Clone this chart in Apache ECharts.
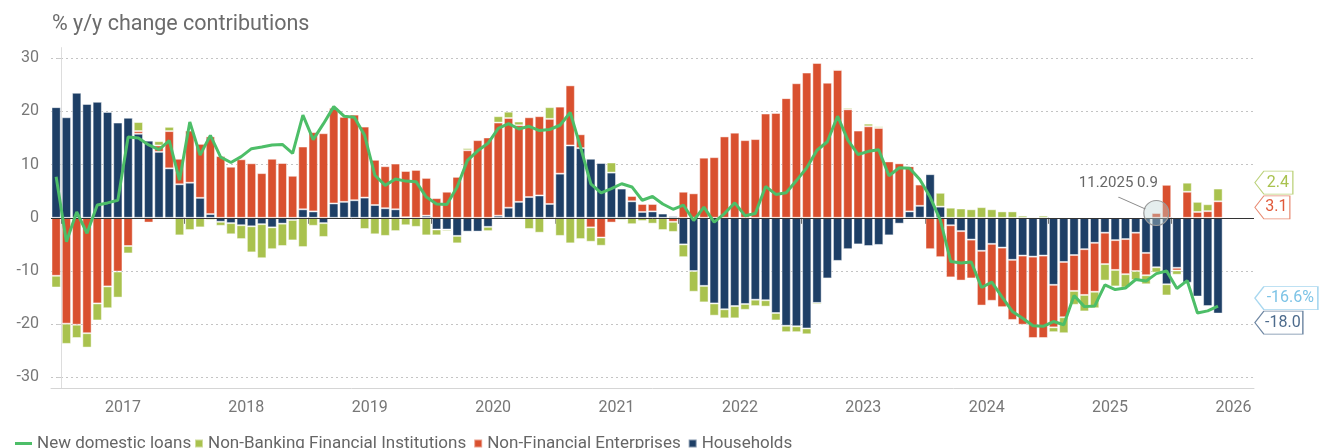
<!DOCTYPE html>
<html><head><meta charset="utf-8">
<script src="https://cdn.jsdelivr.net/npm/echarts@6/dist/echarts.min.js"></script>
<style>html,body{margin:0;padding:0;background:#fff}#c{width:1319px;height:448px}</style>
</head><body><div id="c"></div>
<script>
// ---------- data ----------
const START_YEAR = 2016, START_MONTH = 12, N_CATS = 117; // Dec 2016 .. Aug 2026 axis span
const categories = [];
for (let i = 0; i < N_CATS; i++) {
  const m0 = START_MONTH - 1 + i;
  const y = START_YEAR + Math.floor(m0 / 12);
  const m = (m0 % 12) + 1;
  categories.push((m < 10 ? '0' : '') + m + '.' + y);
}
const yearLabels = ['2017','2018','2019','2020','2021','2022','2023','2024','2025','2026'];
const yTicks = [-30, -20, -10, 0, 10, 20, 30];

const households = [
  20.8, 18.9, 23.5, 21.4, 21.8, 19.9, 17.9, 18.8, 15.8, 14.5,
  12.4, 9.3, 6.3, 6.6, 3.75, 0.7, -0.75, -1.0, -1.4, -1.6,
  -1.2, -1.8, -1.1, -0.4, 1.6, 1.2, -1.0, 2.7, 3.0, 3.3,
  3.8, 2.4, 1.8, 1.6, 0.1, 0, 0.4, -2.2, -2.2, -3.4,
  -2.6, -2.6, -1.7, 0.4, 1.9, 3.0, 3.9, 4.2, 2.6, 8.3,
  13.6, 13.1, 11.1, 10.3, 8.5, 5.5, 3.1, 1.1, 1.2, 0.8,
  0.3, -5.0, -10.0, -12.8, -16.1, -17.2, -16.6, -16.2, -15.4, -15.5,
  -17.9, -20.3, -20.4, -20.8, -16.0, -11.4, -8.1, -5.9, -5.0, -5.3,
  -5.1, -3.3, -1.1, 1.2, 2.25, 8.2, 2.1, -1.4, -2.5, -4.1,
  -6.2, -4.9, -5.6, -7.9, -7.1, -7.3, -7.1, -12.6, -8.3, -7.0,
  -5.9, -4.7, -2.8, -4.2, -4.0, -2.8, -6.6, -9.3, -12.5, -9.4,
  -12.2, -14.8, -16.6, -18.0
];
const nonFinancialEnterprises = [
  -10.9, -19.9, -20.1, -21.7, -16.1, -12.9, -10.1, -5.3, 0.5, -0.9,
  1.2, 7.0, 4.8, 9.8, 10.15, 14.6, 11.6, 9.6, 11.0, 10.25,
  8.4, 11.1, 10.3, 7.9, 11.8, 14.9, 15.9, 18.0, 16.0, 16.1,
  13.35, 8.5, 7.9, 8.6, 8.7, 9.0, 7.1, 3.7, 4.9, 7.7,
  12.7, 14.6, 15.1, 17.5, 16.85, 14.4, 15.0, 14.9, 16.0, 12.6,
  11.3, 2.6, -1.8, -3.7, -0.9, 0, 1.0, 1.5, 1.4, 0,
  -0.75, 4.9, 4.6, 11.3, 11.4, 15.3, 16.0, 14.6, 14.8, 19.6,
  19.7, 22.5, 25.3, 27.3, 29.1, 25.4, 27.8, 20.4, 16.4, 17.2,
  16.9, 10.6, 10.25, 8.5, 4.0, -5.9, -7.4, -9.8, -9.3, -7.3,
  -10.3, -10.7, -11.2, -11.3, -13.0, -15.3, -15.5, -8.0, -10.4, -6.75,
  -8.6, -9.2, -5.9, -5.6, -6.6, -7.2, -4.2, 0.9, 6.2, -0.5,
  4.9, 1.1, 1.25, 3.1
];
const nonBankingFinancial = [
  -2.2, -3.8, -2.5, -2.7, -3.2, -4.1, -4.9, -1.4, 1.7, 0,
  0.8, 0.8, -3.3, -2.3, -1.8, -0.4, -0.75, -2.1, -2.6, -4.9,
  -6.4, -4.1, -4.2, -3.85, -5.5, -1.5, -2.6, 0, 0, -0.25,
  -2.1, -3.1, -3.4, -2.5, -1.4, -1.7, -3.3, -1.1, -0.3, -1.4,
  0.4, -0.1, -0.8, 1.2, 1.2, 0.7, -2.1, -2.8, 2.2, -3.4,
  -4.8, -4.0, -2.7, -1.55, 1.9, -0.4, -1.2, -0.6, -1.1, -2.3,
  -1.9, -2.4, -3.9, -3.1, -2.3, -1.7, -2.3, -1.1, -1.2, -1.2,
  -1.4, -1.2, -1.1, -1.1, -0.3, -0.2, 0.2, 0.3, 0, 0.5,
  0.3, 0, 0.15, 0, 0.2, 0.2, 2.6, 1.9, 1.75, 1.6,
  2.0, 1.6, 1.2, 1.2, 0.4, 0.2, 0.4, -0.9, -3.0, -2.6,
  -3.1, -3.1, -3.1, -3.1, -2.5, -1.7, -1.7, -1.0, -2.1, -0.8,
  1.7, 1.9, 1.3, 2.4
];
const newDomesticLoans = [
  7.7, -4.5, 1.1, -2.9, 2.4, 2.8, 3.3, 15.2, 15.0, 13.7,
  12.8, 14.5, 7.1, 18.0, 11.8, 15.5, 11.4, 10.4, 11.5, 13.0,
  13.3, 13.7, 13.8, 12.1, 19.3, 14.7, 17.7, 20.9, 19.1, 18.9,
  15.5, 8.0, 6.1, 7.3, 6.9, 6.8, 3.9, 2.6, 2.5, 5.8,
  10.8, 12.6, 14.0, 16.8, 17.7, 16.7, 17.2, 16.4, 16.6, 17.4,
  19.8, 13.3, 6.4, 4.7, 5.5, 6.4, 5.8, 3.3, 4.0, 2.6,
  1.6, 2.4, -0.5, 2.0, -0.8, 0.8, 2.8, 0.4, 0.8, 5.9,
  4.4, 4.7, 7.0, 9.4, 12.7, 14.3, 19.1, 14.6, 11.9, 12.5,
  12.8, 7.9, 9.4, 9.3, 7.2, 3.9, -0.5, -8.2, -8.5, -8.3,
  -13.1, -12.1, -14.9, -17.6, -18.9, -20.3, -20.4, -19.5, -20.1, -14.6,
  -16.7, -16.6, -12.6, -13.5, -13.2, -11.6, -11.9, -10.5, -10.0, -13.3,
  -11.8, -17.9, -17.5, -16.6
];

// ---------- styling ----------
const FONT = 'Roboto, "Noto Sans", sans-serif';
const C = { hh: '#1e3f66', nfe: '#d9502f', nbfi: '#a9c24e', line: '#4dbe68' };
const ANNOT_INDEX = 107;
const last = newDomesticLoans.length - 1;
const endCat = categories[N_CATS - 1];
const yearTickPos = yearLabels.map((_, i) => 12 * i);      // Jan boundaries (value axis)
const yearLabelPos = yearLabels.map((_, i) => 12 * i + 6); // mid-year

function tag(text, yVal, dy, w, textColor, borderColor) {
  const h = 23;
  return {
    coord: [endCat, yVal],
    symbol: 'path://M0,' + (h / 2) + ' L9,0 L' + w + ',0 L' + w + ',' + h + ' L9,' + h + ' Z',
    symbolSize: [w, h],
    symbolOffset: [6 + w / 2, dy],
    itemStyle: { color: '#fff', borderColor: borderColor, borderWidth: 1 },
    label: { show: true, position: 'inside', offset: [4, 0], formatter: text,
             color: textColor, fontSize: 16, fontFamily: FONT }
  };
}
const barBorder = { borderColor: 'rgba(255,255,255,0.45)', borderWidth: 1 };
const legendText = { color: '#666', fontSize: 17, fontFamily: FONT };

const chart = echarts.init(document.getElementById('c'), null, { renderer: 'canvas' });
chart.setOption({
  animation: false,
  backgroundColor: '#fff',
  title: { text: '% y/y change contributions', left: 47, top: 9,
           textStyle: { color: '#6b6b6b', fontSize: 21.5, fontWeight: 'normal', fontFamily: FONT } },
  legend: [
    { data: [{ name: 'New domestic loans', icon: 'rect' }],
      left: 15, top: 435, itemWidth: 17, itemHeight: 3, textStyle: legendText, padding: 0 },
    { data: [
        { name: 'Non-Banking Financial Institutions', icon: 'rect' },
        { name: 'Non-Financial Enterprises', icon: 'rect' },
        { name: 'Households', icon: 'rect' } ],
      left: 194, top: 435, itemWidth: 8, itemHeight: 8, itemGap: 7, textStyle: legendText, padding: 0 }
  ],
  grid: { left: 51, right: 65, top: 47.6, bottom: 60, containLabel: false, outerBoundsMode: 'none' },
  xAxis: [
    { type: 'category', data: categories, position: 'bottom',
      axisLine: { onZero: false, lineStyle: { color: '#d5d5d5' } },
      axisTick: { show: false }, axisLabel: { show: false }, splitLine: { show: false } },
    { type: 'value', min: -1, max: N_CATS - 1, position: 'bottom',
      axisLine: { show: false },
      axisTick: { show: true, length: 6, customValues: yearTickPos, lineStyle: { color: '#666' } },
      axisLabel: { customValues: yearLabelPos, formatter: v => yearLabels[Math.round((v - 6) / 12)],
                   color: '#777', fontSize: 16, margin: 12, fontFamily: FONT },
      splitLine: { show: false } }
  ],
  yAxis: {
    type: 'value', min: -32, max: 32,
    axisLine: { show: true, lineStyle: { color: '#ddd' } },
    axisTick: { show: true, length: 4, customValues: yTicks, lineStyle: { color: '#ccc' } },
    axisLabel: { customValues: yTicks, color: '#777', fontSize: 16, margin: 12, fontFamily: FONT },
    splitLine: { show: true, lineStyle: { type: [2, 3], color: '#c4c4c4' } }
  },
  series: [
    { name: 'Households', type: 'bar', stack: 'c', xAxisIndex: 0, data: households, barWidth: '90%',
      itemStyle: Object.assign({ color: C.hh }, barBorder),
      markLine: { silent: true, symbol: 'none', label: { show: false },
                  lineStyle: { color: '#333', width: 1, type: 'solid' }, data: [{ yAxis: 0 }] },
      markPoint: { data: [ tag(households[last].toFixed(1), households[last], 9, 48, '#4d6b8c', '#6f87a3') ] } },
    { name: 'Non-Financial Enterprises', type: 'bar', stack: 'c', xAxisIndex: 0, data: nonFinancialEnterprises, barWidth: '90%',
      itemStyle: Object.assign({ color: C.nfe }, barBorder),
      markPoint: { data: [
        { coord: [categories[ANNOT_INDEX], nonFinancialEnterprises[ANNOT_INDEX]], symbol: 'circle', symbolSize: 25,
          itemStyle: { color: 'rgba(190,212,212,0.4)', borderColor: '#9a9a9a', borderWidth: 1.2 },
          label: { show: true, position: 'inside', offset: [-38, -30],
                   formatter: categories[ANNOT_INDEX] + ' ' + nonFinancialEnterprises[ANNOT_INDEX],
                   color: '#666', fontSize: 15, fontFamily: FONT } },
        { coord: [categories[ANNOT_INDEX], nonFinancialEnterprises[ANNOT_INDEX]], symbol: 'path://M0,0 L27,12',
          symbolSize: [27, 12], symbolOffset: [-24.5, -10],
          itemStyle: { color: 'none', borderColor: '#888', borderWidth: 1 }, label: { show: false } },
        tag(nonFinancialEnterprises[last].toFixed(1), nonFinancialEnterprises[last], 6, 35, '#e0593a', '#e88a72')
      ] } },
    { name: 'Non-Banking Financial Institutions', type: 'bar', stack: 'c', xAxisIndex: 0, data: nonBankingFinancial, barWidth: '90%',
      itemStyle: Object.assign({ color: C.nbfi }, barBorder),
      markPoint: { data: [ tag(nonBankingFinancial[last].toFixed(1),
                               nonBankingFinancial[last] + nonFinancialEnterprises[last], -6, 38, '#a9c24e', '#bcd27a') ] } },
    { name: 'New domestic loans', type: 'line', xAxisIndex: 0, data: newDomesticLoans, symbol: 'none', z: 5,
      lineStyle: { color: C.line, width: 3 }, itemStyle: { color: C.line },
      markPoint: { data: [ tag(newDomesticLoans[last].toFixed(1) + '%', newDomesticLoans[last], -8, 63, '#7cc3e6', '#a9d8f0') ] } }
  ]
});
</script></body></html>
